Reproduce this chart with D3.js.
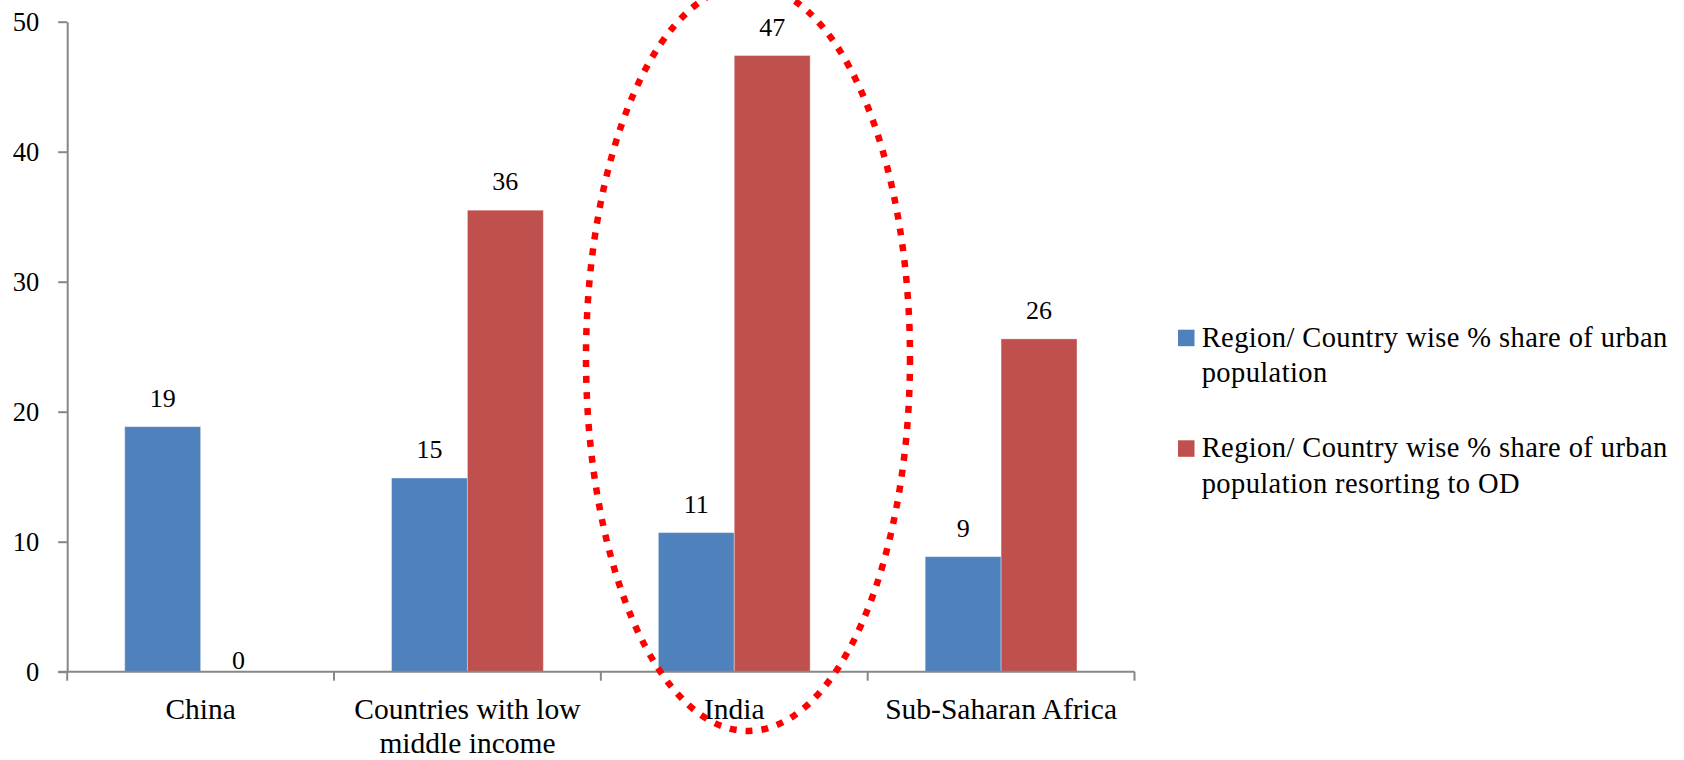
<!DOCTYPE html>
<html>
<head>
<meta charset="utf-8">
<script src="https://cdn.jsdelivr.net/npm/d3@7"></script>
<style>
  html, body { margin: 0; padding: 0; background: #ffffff; }
  svg { display: block; }
  text { font-family: "Liberation Serif", "Times New Roman", serif; fill: #000; }
</style>
</head>
<body>
<svg id="chart" width="1684" height="760"></svg>
<script>
// ---- data ----
const categories = ["China", "Countries with low middle income", "India", "Sub-Saharan Africa"];
const categoryLines = [["China"], ["Countries with low", "middle income"], ["India"], ["Sub-Saharan Africa"]];
const seriesNames = [
  "Region/ Country wise % share of urban population",
  "Region/ Country wise % share of urban population resorting to OD"
];
const legendLines = [
  ["Region/ Country wise % share of urban", "population"],
  ["Region/ Country wise % share of urban", "population resorting to OD"]
];
const urbanShare = [18.85, 14.9, 10.7, 8.85];
const odShare = [0, 35.5, 47.4, 25.6];
const yTicks = [0, 10, 20, 30, 40, 50];

// ---- styles ----
const colors = ["#4F81BD", "#C0504D"];
const axisColor = "#878787";

const svg = d3.select("#chart");
svg.append("rect").attr("width", 1684).attr("height", 760).attr("fill", "#fff");

const plot = { left: 67.2, right: 1134.5, top: 21.7, bottom: 671.7 };

const y = d3.scaleLinear().domain([0, 50]).range([plot.bottom, plot.top]);
const x0 = d3.scaleBand().domain(categories).range([plot.left, plot.right]).padding(0);
const x1 = d3.scaleBand().domain([0, 1]).range([0, x0.bandwidth()])
  .paddingInner(0).paddingOuter(0.758);

const series = [urbanShare, odShare];

// bars
const groups = svg.append("g").selectAll("g")
  .data(categories)
  .join("g")
  .attr("transform", d => `translate(${x0(d)},0)`);

groups.selectAll("rect")
  .data((d, i) => series.map((s, k) => ({ k, v: s[i] })))
  .join("rect")
  .attr("x", d => x1(d.k))
  .attr("width", x1.bandwidth())
  .attr("y", d => y(d.v))
  .attr("height", d => y(0) - y(d.v))
  .attr("fill", d => colors[d.k])
  .attr("stroke", d => d.v > 0 ? "rgba(255,255,255,0.35)" : "none")
  .attr("stroke-width", 1);

// data labels
groups.selectAll("text.val")
  .data((d, i) => series.map((s, k) => ({ k, v: s[i] })))
  .join("text")
  .attr("class", "val")
  .attr("x", d => x1(d.k) + x1.bandwidth() / 2)
  .attr("y", d => d.v > 0 ? y(d.v) - 20 : y(0) - 2.5)
  .attr("text-anchor", "middle")
  .style("font-size", "26px")
  .text(d => Math.round(d.v));

// y axis
const yAxis = d3.axisLeft(y).tickValues(yTicks).tickSize(9).tickPadding(19).tickSizeOuter(0);
const gy = svg.append("g").attr("transform", `translate(${plot.left},0)`).call(yAxis);
gy.select(".domain").attr("stroke", axisColor).attr("stroke-width", 2);
gy.selectAll(".tick line").attr("stroke", axisColor).attr("stroke-width", 2);
gy.selectAll(".tick text")
  .style("font-size", "26.5px")
  .style("font-family", '"Liberation Serif", serif')
  .attr("fill", "#000");

// x axis: line plus boundary ticks
const gx = svg.append("g");
gx.append("line")
  .attr("x1", plot.left - 9).attr("x2", plot.right)
  .attr("y1", y(0)).attr("y2", y(0))
  .attr("stroke", axisColor).attr("stroke-width", 2);
const boundaries = categories.map(c => x0(c)).concat([x0(categories[categories.length - 1]) + x0.bandwidth()]);
gx.selectAll("line.bt")
  .data(boundaries)
  .join("line")
  .attr("class", "bt")
  .attr("x1", d => d).attr("x2", d => d)
  .attr("y1", y(0)).attr("y2", y(0) + 9)
  .attr("stroke", axisColor).attr("stroke-width", 2);

// category labels
const cat = svg.append("g").selectAll("text")
  .data(categories)
  .join("text")
  .attr("text-anchor", "middle")
  .style("font-size", "29.5px")
  .attr("transform", d => `translate(${x0(d) + x0.bandwidth() / 2},${y(0) + 47.5})`);
cat.selectAll("tspan")
  .data((d, i) => categoryLines[i])
  .join("tspan")
  .attr("x", 0)
  .attr("y", (d, j) => j * 34)
  .text(d => d);

// legend
const legend = svg.append("g").attr("transform", "translate(1178,0)");
const legendTop = [346.7, 457.3];
seriesNames.forEach((name, k) => {
  const g = legend.append("g").attr("transform", `translate(0,${legendTop[k]})`);
  g.append("rect").attr("x", 0).attr("y", -17).attr("width", 16.5).attr("height", 16.5).attr("fill", colors[k]);
  const t = g.append("text").attr("x", 23.7).attr("y", 0)
    .style("font-size", "28.5px").style("letter-spacing", "0.4px");
  t.selectAll("tspan").data(legendLines[k]).join("tspan")
    .attr("x", 23.7).attr("y", (d, j) => j * 35.5).text(d => d);
});

// highlight ellipse around India
svg.append("ellipse")
  .attr("cx", 748).attr("cy", 358).attr("rx", 162).attr("ry", 373)
  .attr("fill", "none")
  .attr("stroke", "#FF0000")
  .attr("stroke-width", 6.5)
  .attr("stroke-dasharray", "7 9");
</script>
</body>
</html>
